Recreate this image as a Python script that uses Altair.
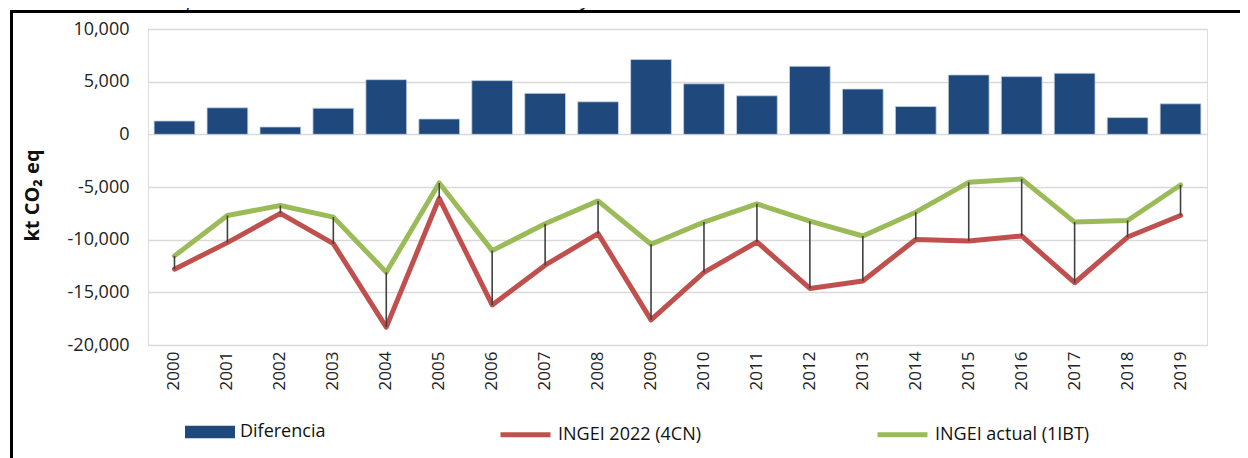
import altair as alt
import pandas as pd

years = [str(y) for y in range(2000, 2020)]
diferencia = [1270, 2520, 700, 2480, 5190, 1460, 5100, 3890, 3090, 7100,
              4800, 3660, 6460, 4300, 2640, 5640, 5480, 5800, 1590, 2900]
ingei_2022 = [-12800, -10280, -7500, -10380, -18300, -6070, -16200, -12420, -9430, -17610,
              -13110, -10220, -14630, -13930, -9980, -10130, -9650, -14090, -9750, -7700]
ingei_actual = [-11540, -7700, -6760, -7860, -13100, -4620, -11040, -8490, -6320, -10440,
                -8330, -6600, -8240, -9650, -7390, -4560, -4250, -8330, -8180, -4810]

series_names = ["Diferencia", "INGEI 2022 (4CN)", "INGEI actual (1IBT)"]
colors = ["#1F497D", "#C0504D", "#9BBB59"]
y_ticks = [-20000, -15000, -10000, -5000, 0, 5000, 10000]
title_text = "Nuevos cálculos: comparación de los balances de GEI del INGEI2022 y el INGEI2021."
y_title = "kt CO₂ eq"

FONT = "Open Sans"

wide = pd.DataFrame({"anio": years, "dif": diferencia, "c4cn": ingei_2022, "ibt": ingei_actual,
                     "serie": series_names[0]})
long = pd.concat([
    pd.DataFrame({"anio": years, "valor": ingei_2022, "serie": series_names[1], "orden": 0}),
    pd.DataFrame({"anio": years, "valor": ingei_actual, "serie": series_names[2], "orden": 1}),
])

x_enc = alt.X("anio:N", title=None,
              scale=alt.Scale(paddingInner=0.23, paddingOuter=0.115),
              axis=alt.Axis(labelAngle=270, labelFontSize=17, labelFont=FONT, labelColor="#222222",
                            ticks=False, domain=False, grid=False, labelPadding=6))

y_scale = alt.Scale(domain=[-20000, 10000], nice=False, zero=False)
y_axis = alt.Axis(values=y_ticks, labelExpr="(datum.value < 0 ? '-' : '') + format(abs(datum.value), ',')",
                  labelFontSize=18, labelFont=FONT, labelColor="#222222", ticks=False, domain=False,
                  grid=True, gridColor="#D9D9D9", gridWidth=1.5, labelPadding=19,
                  title=y_title, titleFont=FONT, titleFontSize=20, titleFontWeight="bold",
                  titleAngle=270, titleX=-110, titleY=166, titleAlign="center",
                  titleBaseline="alphabetic", titleColor="#111111")

bars = alt.Chart(wide).mark_bar(stroke="#c9d3e2", strokeWidth=0.8).encode(
    x=x_enc,
    y=alt.Y("dif:Q", scale=y_scale, axis=y_axis),
    fill=alt.Fill("serie:N", scale=alt.Scale(domain=[series_names[0]], range=[colors[0]]),
                  legend=alt.Legend(orient="none", legendX=37, legendY=378, direction="horizontal",
                                    title=None, symbolType="M-1,-0.25H1V0.25H-1Z", symbolSize=2500,
                                    symbolStrokeWidth=0, labelFontSize=18, labelFont=FONT,
                                    labelColor="#111111", labelOffset=5, padding=0)),
)

lines = alt.Chart(long).mark_line(strokeWidth=5, strokeCap="round", strokeJoin="round").encode(
    x=x_enc,
    y=alt.Y("valor:Q", scale=y_scale, axis=y_axis),
    stroke=alt.Stroke("serie:N", scale=alt.Scale(domain=series_names[1:], range=colors[1:]),
                      legend=alt.Legend(orient="none", legendX=350, legendY=378, direction="horizontal",
                                        title=None, symbolType="stroke", symbolSize=2500,
                                        symbolStrokeWidth=5, labelFontSize=18, labelFont=FONT,
                                        labelColor="#111111", labelOffset=5, padding=0,
                                        columnPadding=165)),
    order=alt.Order("orden:Q"),
)

rules = alt.Chart(wide).mark_rule(color="#404040", strokeWidth=1.6).encode(
    x=x_enc,
    y=alt.Y("ibt:Q", scale=y_scale, axis=y_axis),
    y2="c4cn:Q",
)

frame_df = pd.DataFrame({"t": [title_text]})
outer = alt.Chart(frame_df).mark_rect(fill=None, stroke="black", strokeWidth=3).encode(
    x=alt.value(-136.5), x2=alt.value(1200), y=alt.value(-17.5), y2=alt.value(500)
)
title = alt.Chart(frame_df).mark_text(align="left", baseline="alphabetic", fontStyle="italic",
                                      font=FONT, fontSize=19, color="#111111").encode(
    x=alt.value(-140), y=alt.value(-23), text="t:N"
)

chart = alt.layer(outer, bars, lines, rules, title).properties(
    width=1059, height=316,
    autosize=alt.AutoSizeParams(type="none"),
    padding={"left": 140, "top": 21, "right": 33, "bottom": 113},
).resolve_scale(y="shared").configure_view(
    stroke="black", strokeWidth=3
).configure(background="white")

chart.save("out.html", embed_options={"renderer": "svg", "actions": False})
